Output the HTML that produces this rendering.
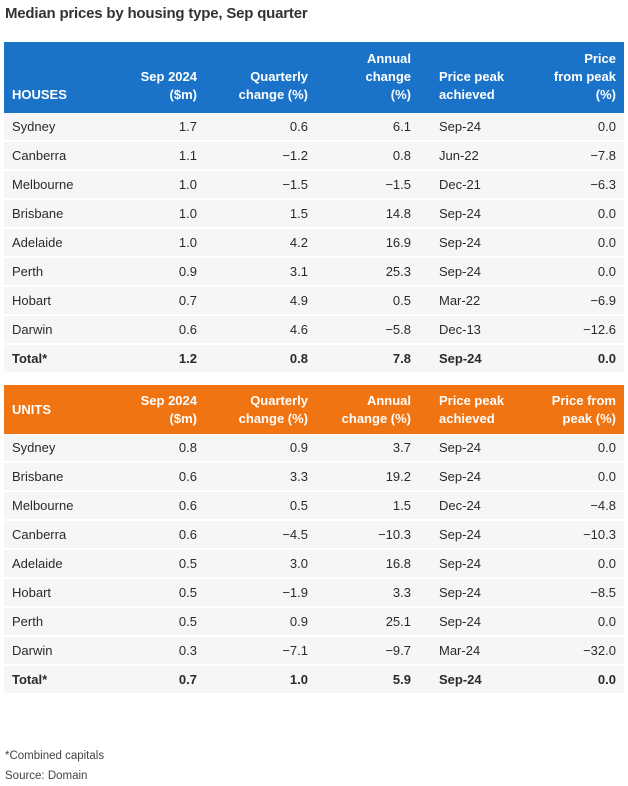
<!DOCTYPE html>
<html><head><meta charset="utf-8"><style>
body{margin:0;width:628px;height:786px;background:#fff;font-family:"Liberation Sans",sans-serif;color:#2a2a2a;position:relative;overflow:hidden}
.t{position:absolute;left:5px;top:5px;font-size:15px;font-weight:bold;color:#333;letter-spacing:-0.2px}
.tb{position:absolute;left:4px;width:620px;border-collapse:collapse;font-size:13px;table-layout:fixed}
.tb td{padding:0 8px;text-align:right;white-space:nowrap}
.tb td:first-child{text-align:left}
.tb td:nth-child(5){text-align:left;padding-left:20px}
.tb tr.r td{height:27px;background:#f6f6f6;border-bottom:2px solid #fff}
.tb tr.tot td{font-weight:bold}
.h td{color:#fff;font-weight:bold;font-size:13px;line-height:18px;vertical-align:bottom;padding-bottom:9px}
.hb td{background:#1a73c8;height:62px}
.ho td{background:#f07412;height:49px;vertical-align:middle;padding-bottom:0}
.f{position:absolute;left:5px;font-size:11.5px;color:#444}
</style></head><body>
<div class="t">Median prices by housing type, Sep quarter</div>
<table class="tb" style="top:42px">
<colgroup><col style="width:108px"><col style="width:93px"><col style="width:111px"><col style="width:103px"><col style="width:108px"><col style="width:97px"></colgroup>
<tr class="h hb"><td>HOUSES</td><td>Sep 2024<br>($m)</td><td>Quarterly<br>change (%)</td><td>Annual<br>change<br>(%)</td><td>Price peak<br>achieved</td><td>Price<br>from peak<br>(%)</td></tr>
<tr class="r"><td>Sydney</td><td>1.7</td><td>0.6</td><td>6.1</td><td>Sep-24</td><td>0.0</td></tr>
<tr class="r"><td>Canberra</td><td>1.1</td><td>−1.2</td><td>0.8</td><td>Jun-22</td><td>−7.8</td></tr>
<tr class="r"><td>Melbourne</td><td>1.0</td><td>−1.5</td><td>−1.5</td><td>Dec-21</td><td>−6.3</td></tr>
<tr class="r"><td>Brisbane</td><td>1.0</td><td>1.5</td><td>14.8</td><td>Sep-24</td><td>0.0</td></tr>
<tr class="r"><td>Adelaide</td><td>1.0</td><td>4.2</td><td>16.9</td><td>Sep-24</td><td>0.0</td></tr>
<tr class="r"><td>Perth</td><td>0.9</td><td>3.1</td><td>25.3</td><td>Sep-24</td><td>0.0</td></tr>
<tr class="r"><td>Hobart</td><td>0.7</td><td>4.9</td><td>0.5</td><td>Mar-22</td><td>−6.9</td></tr>
<tr class="r"><td>Darwin</td><td>0.6</td><td>4.6</td><td>−5.8</td><td>Dec-13</td><td>−12.6</td></tr>
<tr class="r tot"><td>Total*</td><td>1.2</td><td>0.8</td><td>7.8</td><td>Sep-24</td><td>0.0</td></tr>
</table>
<table class="tb" style="top:385px">
<colgroup><col style="width:108px"><col style="width:93px"><col style="width:111px"><col style="width:103px"><col style="width:108px"><col style="width:97px"></colgroup>
<tr class="h ho"><td>UNITS</td><td>Sep 2024<br>($m)</td><td>Quarterly<br>change (%)</td><td>Annual<br>change (%)</td><td>Price peak<br>achieved</td><td>Price from<br>peak (%)</td></tr>
<tr class="r"><td>Sydney</td><td>0.8</td><td>0.9</td><td>3.7</td><td>Sep-24</td><td>0.0</td></tr>
<tr class="r"><td>Brisbane</td><td>0.6</td><td>3.3</td><td>19.2</td><td>Sep-24</td><td>0.0</td></tr>
<tr class="r"><td>Melbourne</td><td>0.6</td><td>0.5</td><td>1.5</td><td>Dec-24</td><td>−4.8</td></tr>
<tr class="r"><td>Canberra</td><td>0.6</td><td>−4.5</td><td>−10.3</td><td>Sep-24</td><td>−10.3</td></tr>
<tr class="r"><td>Adelaide</td><td>0.5</td><td>3.0</td><td>16.8</td><td>Sep-24</td><td>0.0</td></tr>
<tr class="r"><td>Hobart</td><td>0.5</td><td>−1.9</td><td>3.3</td><td>Sep-24</td><td>−8.5</td></tr>
<tr class="r"><td>Perth</td><td>0.5</td><td>0.9</td><td>25.1</td><td>Sep-24</td><td>0.0</td></tr>
<tr class="r"><td>Darwin</td><td>0.3</td><td>−7.1</td><td>−9.7</td><td>Mar-24</td><td>−32.0</td></tr>
<tr class="r tot"><td>Total*</td><td>0.7</td><td>1.0</td><td>5.9</td><td>Sep-24</td><td>0.0</td></tr>
</table>
<div class="f" style="top:750px">*Combined capitals</div>
<div class="f" style="top:770px">Source: Domain</div>
</body></html>
